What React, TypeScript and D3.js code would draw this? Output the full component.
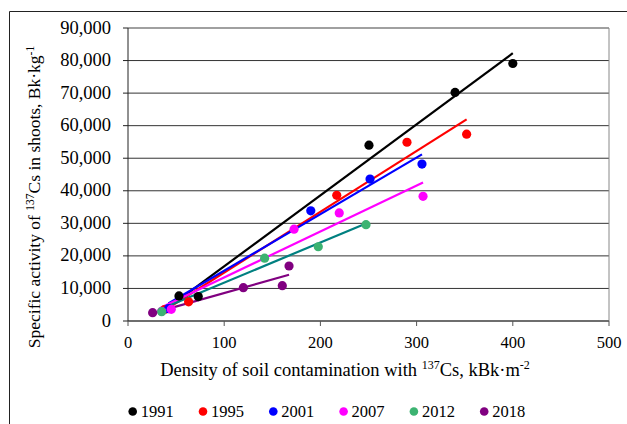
import React from "react";
import * as d3 from "d3";

const years = ["1991", "1995", "2001", "2007", "2012", "2018"];
const dotColors = ["#000000", "#FF0000", "#0000FF", "#FF00FF", "#3CB371", "#800080"];
const lineColors = ["#000000", "#FF0000", "#0000FF", "#FF00FF", "#008080", "#800080"];

const x1991 = [53, 73, 250.5, 340, 400];
const y1991 = [7700, 7500, 54000, 70200, 79100];
const x1995 = [38, 63, 217, 290, 352];
const y1995 = [3500, 5900, 38600, 54900, 57400];
const x2001 = [42, 190, 251.6, 305.6];
const y2001 = [3800, 33850, 43600, 48200];
const x2007 = [35, 45, 172.6, 219.6, 306.7];
const y2007 = [3000, 3600, 28200, 33200, 38300];
const x2012 = [35, 142, 197.8, 247.4];
const y2012 = [2860, 19300, 22800, 29600];
const x2018 = [25.6, 119.9, 160.4, 167.4];
const y2018 = [2550, 10230, 10840, 16890];

const seriesX = [x1991, x1995, x2001, x2007, x2012, x2018];
const seriesY = [y1991, y1995, y2001, y2007, y2012, y2018];

const xTicks = [0, 100, 200, 300, 400, 500];
const yTicks = [0, 10000, 20000, 30000, 40000, 50000, 60000, 70000, 80000, 90000];

const FONT = "Liberation Serif, DejaVu Serif, serif";

function regression(xs: number[], ys: number[]) {
  const mx = d3.mean(xs) as number;
  const my = d3.mean(ys) as number;
  let sxx = 0, sxy = 0;
  xs.forEach((x, i) => { sxx += (x - mx) * (x - mx); sxy += (x - mx) * (ys[i] - my); });
  const b = sxy / sxx;
  return { b, a: my - b * mx };
}

export default function App() {
  const W = 627, H = 424;
  const left = 128, right = 609, top = 28, bottom = 321;
  const xs = d3.scaleLinear().domain([0, 500]).range([left, right]);
  const ys = d3.scaleLinear().domain([0, 90000]).range([bottom, top]);
  const fmt = d3.format(",");
  const line = d3.line<[number, number]>().x(d => xs(d[0])).y(d => ys(d[1]));
  const ts = { fontFamily: FONT };

  return (
    <svg width={W} height={H} style={{ position: "absolute", left: 0, top: 0, fontFamily: FONT }}>
      <rect x={0} y={0} width={W} height={H} fill="#fff" />
      <path d={`M9.5,${H + 2}V11.5H${W + 2}`} fill="none" stroke="#222" strokeWidth={1} />
      {yTicks.filter(t => t > 0).map(t => (
        <line key={t} x1={left} x2={right} y1={ys(t)} y2={ys(t)} stroke={t === 90000 ? "#808080" : "#333"} strokeWidth={t === 90000 ? 1.5 : 1} />
      ))}
      <line x1={right} x2={right} y1={top} y2={bottom} stroke="#888" strokeWidth={1} />
      <line x1={left} x2={right} y1={bottom} y2={bottom} stroke="#6e6e6e" strokeWidth={2} />
      {xTicks.map(t => (
        <g key={t}>
          <line x1={xs(t)} x2={xs(t)} y1={bottom} y2={bottom + 5} stroke="#555" strokeWidth={1} />
          <text x={xs(t)} y={348} textAnchor="middle" fontSize={16.5} style={ts}>{t}</text>
        </g>
      ))}
      <line x1={left} x2={left} y1={top} y2={bottom} stroke="#222" strokeWidth={1} />
      {yTicks.map(t => (
        <g key={t}>
          <line x1={left - 5} x2={left} y1={ys(t)} y2={ys(t)} stroke="#222" strokeWidth={1} />
          <text x={111} y={ys(t) + 5.5} textAnchor="end" fontSize={18.5} style={ts}>{fmt(t)}</text>
        </g>
      ))}
      {seriesX.map((xArr, i) => {
        const { a, b } = regression(xArr, seriesY[i]);
        const x0 = d3.min(xArr) as number, x1 = d3.max(xArr) as number;
        return <path key={"l" + i} d={line([[x0, a + b * x0], [x1, a + b * x1]]) || ""} stroke={lineColors[i]} strokeWidth={2.2} fill="none" />;
      })}
      {seriesX.map((xArr, i) => xArr.map((x, j) => (
        <circle key={`p${i}-${j}`} cx={xs(x)} cy={ys(seriesY[i][j])} r={4.6} fill={dotColors[i]} />
      )))}
      <text x={345} y={376} textAnchor="middle" fontSize={18.5} style={ts}>
        Density of soil contamination with <tspan fontSize={12} dy={-7}>137</tspan><tspan dy={7}>Cs, kBk·m</tspan><tspan fontSize={12} dy={-7}>-2</tspan>
      </text>
      <text transform="translate(40,197) rotate(-90)" textAnchor="middle" fontSize={17.5} style={ts}>
        Specific activity of <tspan fontSize={11.5} dy={-6.5}>137</tspan><tspan dy={6.5}>Cs in shoots, Bk·kg</tspan><tspan fontSize={11.5} dy={-6.5}>-1</tspan>
      </text>
      {years.map((yr, i) => (
        <g key={yr} transform={`translate(${132.7 + i * 70.3},0)`}>
          <circle cx={0} cy={411.5} r={4.3} fill={dotColors[i]} />
          <text x={8} y={416.5} fontSize={16.5} style={ts}>{yr}</text>
        </g>
      ))}
    </svg>
  );
}
